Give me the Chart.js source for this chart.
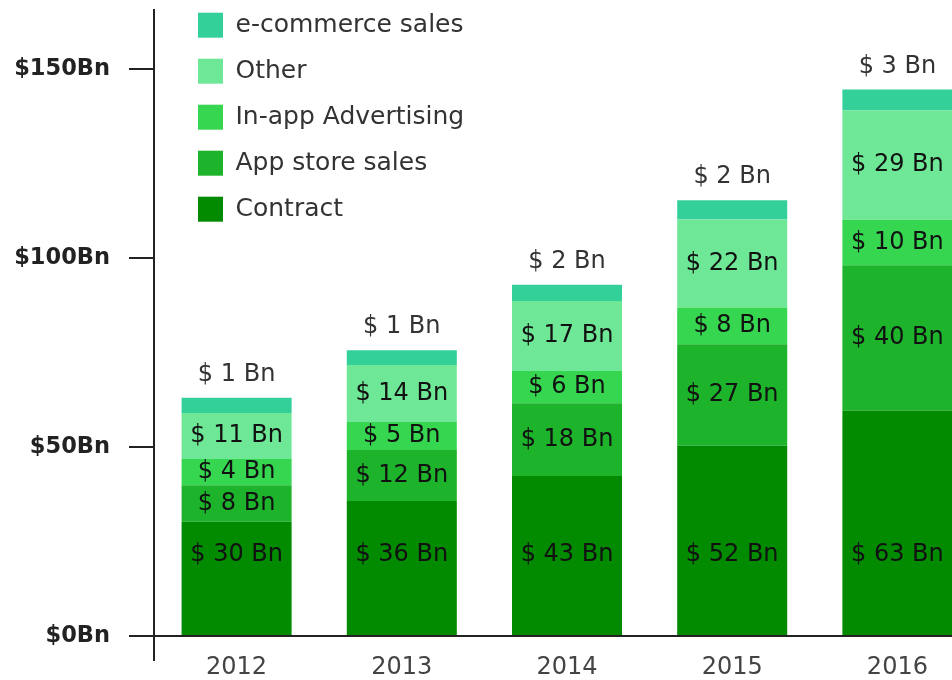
<!DOCTYPE html>
<html>
<head>
<meta charset="utf-8">
<script src="https://cdn.jsdelivr.net/npm/chart.js@4"></script>
<style>
html, body { margin: 0; padding: 0; background: #ffffff; overflow: hidden; }
#wrap { position: relative; width: 980px; height: 680px; }
</style>
</head>
<body>
<div id="wrap"><canvas id="c"></canvas></div>
<script>
// ---- data ----
const years = ['2012', '2013', '2014', '2015', '2016'];
const seriesNames = ['Contract', 'App store sales', 'In-app Advertising', 'Other', 'e-commerce sales'];
const seriesColors = ['#028a01', '#1db32b', '#36d650', '#6ee896', '#33d09a'];

// segment heights as drawn in the picture ($Bn)
const contract  = [30.2, 35.7, 42.3, 50.3, 59.6];
const appStore  = [9.7, 13.5, 19.3, 26.9, 38.5];
const inApp     = [6.9, 7.4, 8.5, 9.7, 12.0];
const other     = [12.2, 15.1, 18.5, 23.3, 28.9];
const ecommerce = [4.0, 3.9, 4.3, 5.1, 5.6];

// values printed on the segments ($Bn)
const contractLabels  = [30, 36, 43, 52, 63];
const appStoreLabels  = [8, 12, 18, 27, 40];
const inAppLabels     = [4, 5, 6, 8, 10];
const otherLabels     = [11, 14, 17, 22, 29];
const ecommerceLabels = [1, 1, 2, 2, 3];

const yTickValues = [0, 50, 100, 150];
const yTickLabels = ['$0Bn', '$50Bn', '$100Bn', '$150Bn'];

// ---- chart ----
Chart.defaults.font.family = '"DejaVu Sans", sans-serif';
const FONT = '"DejaVu Sans", sans-serif';
const contractLabelAnchor = 21.4; // value level where the Contract labels sit

const segLabels = {
  id: 'segLabels',
  afterDatasetsDraw(chart) {
    const ctx = chart.ctx;
    const yScale = chart.scales.y;
    ctx.save();
    ctx.font = '24px ' + FONT;
    ctx.textAlign = 'center';
    ctx.textBaseline = 'middle';
    chart.data.datasets.forEach((ds, di) => {
      const meta = chart.getDatasetMeta(di);
      meta.data.forEach((bar, i) => {
        const text = '$ ' + ds.valueLabels[i] + ' Bn';
        let y;
        if (ds.labelPos === 'fixed') y = yScale.getPixelForValue(contractLabelAnchor);
        else if (ds.labelPos === 'above') y = bar.y - 23;
        else y = (bar.y + bar.base) / 2;
        ctx.fillStyle = ds.labelPos === 'above' ? '#333333' : '#111111';
        ctx.fillText(text, bar.x, y);
      });
    });
    ctx.restore();
  }
};

const legendShift = {
  id: 'legendShift',
  afterLayout(chart) {
    const lg = chart.legend;
    if (lg) {
      lg.left = chart.chartArea.left + 23;
      lg.top = chart.chartArea.top - 18.3;
    }
  }
};

const seriesData = [contract, appStore, inApp, other, ecommerce];
const seriesLabelVals = [contractLabels, appStoreLabels, inAppLabels, otherLabels, ecommerceLabels];
const labelPositions = ['fixed', 'center', 'center', 'center', 'above'];

new Chart(document.getElementById('c'), {
  type: 'bar',
  data: {
    labels: years,
    datasets: seriesNames.map((name, k) => ({
      label: name,
      data: seriesData[k],
      backgroundColor: seriesColors[k],
      borderWidth: 0,
      barPercentage: 0.666,
      categoryPercentage: 1.0,
      valueLabels: seriesLabelVals[k],
      labelPos: labelPositions[k]
    }))
  },
  options: {
    responsive: true,
    maintainAspectRatio: false,
    devicePixelRatio: 1,
    animation: false,
    layout: { padding: { top: 10, left: 0, right: 0, bottom: 0 } },
    plugins: {
      legend: {
        position: 'chartArea',
        align: 'start',
        reverse: true,
        labels: {
          boxWidth: 25,
          boxHeight: 25,
          padding: 21,
          color: '#333333',
          font: { size: 25, family: FONT }
        }
      },
      tooltip: { enabled: false }
    },
    scales: {
      x: {
        stacked: true,
        afterFit: (a) => { a.height = 44; a.paddingLeft = 0; a.paddingRight = 0; },
        ticks: { color: '#444444', font: { size: 24, family: FONT }, padding: -8 },
        grid: {
          drawOnChartArea: false,
          tickLength: 25,
          lineWidth: 2,
          tickColor: (c) => (c.index === 0 ? '#222222' : 'rgba(0,0,0,0)')
        },
        border: { color: '#222222', width: 2 }
      },
      y: {
        stacked: true,
        min: 0,
        max: 165.6,
        afterBuildTicks: (a) => { a.ticks = yTickValues.map(v => ({ value: v })); },
        afterFit: (a) => { a.width = 154; a.paddingTop = 0; a.paddingBottom = 0; },
        ticks: {
          callback: (v) => yTickLabels[yTickValues.indexOf(v)],
          color: '#222222',
          font: { size: 22.5, weight: 'bold', family: FONT },
          padding: 19
        },
        grid: { drawOnChartArea: false, tickLength: 25, lineWidth: 2, tickColor: '#222222' },
        border: { color: '#222222', width: 2 }
      }
    }
  },
  plugins: [segLabels, legendShift]
});
</script>
</body>
</html>
